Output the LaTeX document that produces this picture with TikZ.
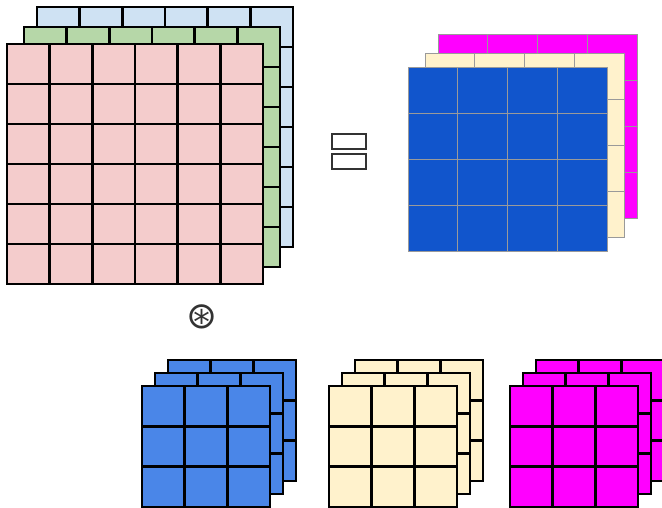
\documentclass[tikz,border=0pt]{standalone}
\usepackage{fontspec}
\newfontfamily\symfont{DejaVu Sans}
\definecolor{cpink}{HTML}{F4CCCC}
\definecolor{cgreen}{HTML}{B6D7A8}
\definecolor{clblue}{HTML}{CFE2F3}
\definecolor{ckblue}{HTML}{4A86E8}
\definecolor{cbeige}{HTML}{FFF2CC}
\definecolor{cmag}{HTML}{FF00FF}
\definecolor{cdblue}{HTML}{1155CC}
\definecolor{cgridgray}{HTML}{9A9A9A}
\definecolor{cdark}{HTML}{333333}
\tikzset{
  thickgrid/.style={draw=black, line width=2.8pt},
  thingrid/.style={draw=cgridgray, line width=1pt},
  eqbar/.style={draw=cdark, line width=1.2pt},
  opsym/.style={text=cdark, inner sep=0pt, font=\symfont\fontsize{37}{37}\selectfont}
}
% #1 x, #2 y, #3 width, #4 height, #5 cols, #6 rows, #7 fill, #8 line style
\newcommand\gridlayer[8]{%
  \fill[#7] (#1,#2) rectangle ++(#3,#4);
  \foreach \k in {1,...,#5} {\draw[#8] ({#1+(\k-1)*#3/#5},#2) -- ++(0,#4);}
  \foreach \k in {1,...,#6} {\draw[#8] (#1,{#2+(\k-1)*#4/#6}) -- ++(#3,0);}
  \draw[#8] (#1,#2) rectangle ++(#3,#4);
}
\begin{document}
\begin{tikzpicture}[x=1pt,y=-1pt]
\useasboundingbox (0,0) rectangle (662,507);
\clip (0,0) rectangle (662,507);
% input volume 6x6x3
\gridlayer{37}{7}{256}{240}{6}{6}{clblue}{thickgrid}
\gridlayer{24}{27}{256}{240}{6}{6}{cgreen}{thickgrid}
\gridlayer{7}{44}{256}{240}{6}{6}{cpink}{thickgrid}
% equals sign
\draw[eqbar] (332,134) rectangle (366,149);
\draw[eqbar] (332,154) rectangle (366,169);
% output volume 4x4x3
\gridlayer{438}{34}{199}{184}{4}{4}{cmag}{thingrid}
\gridlayer{425}{53}{199}{184}{4}{4}{cbeige}{thingrid}
\gridlayer{408}{67}{199}{184}{4}{4}{cdblue}{thingrid}
% convolution operator
\node[opsym] (conv) at (202,317) {⊛};
% kernels 3x3x3
\gridlayer{168}{360}{128}{121}{3}{3}{ckblue}{thickgrid}
\gridlayer{155}{373}{128}{121}{3}{3}{ckblue}{thickgrid}
\gridlayer{142}{386}{128}{121}{3}{3}{ckblue}{thickgrid}
\gridlayer{355}{360}{128}{121}{3}{3}{cbeige}{thickgrid}
\gridlayer{342}{373}{128}{121}{3}{3}{cbeige}{thickgrid}
\gridlayer{329}{386}{128}{121}{3}{3}{cbeige}{thickgrid}
\gridlayer{536}{360}{128}{121}{3}{3}{cmag}{thickgrid}
\gridlayer{523}{373}{128}{121}{3}{3}{cmag}{thickgrid}
\gridlayer{510}{386}{128}{121}{3}{3}{cmag}{thickgrid}
\end{tikzpicture}
\end{document}
